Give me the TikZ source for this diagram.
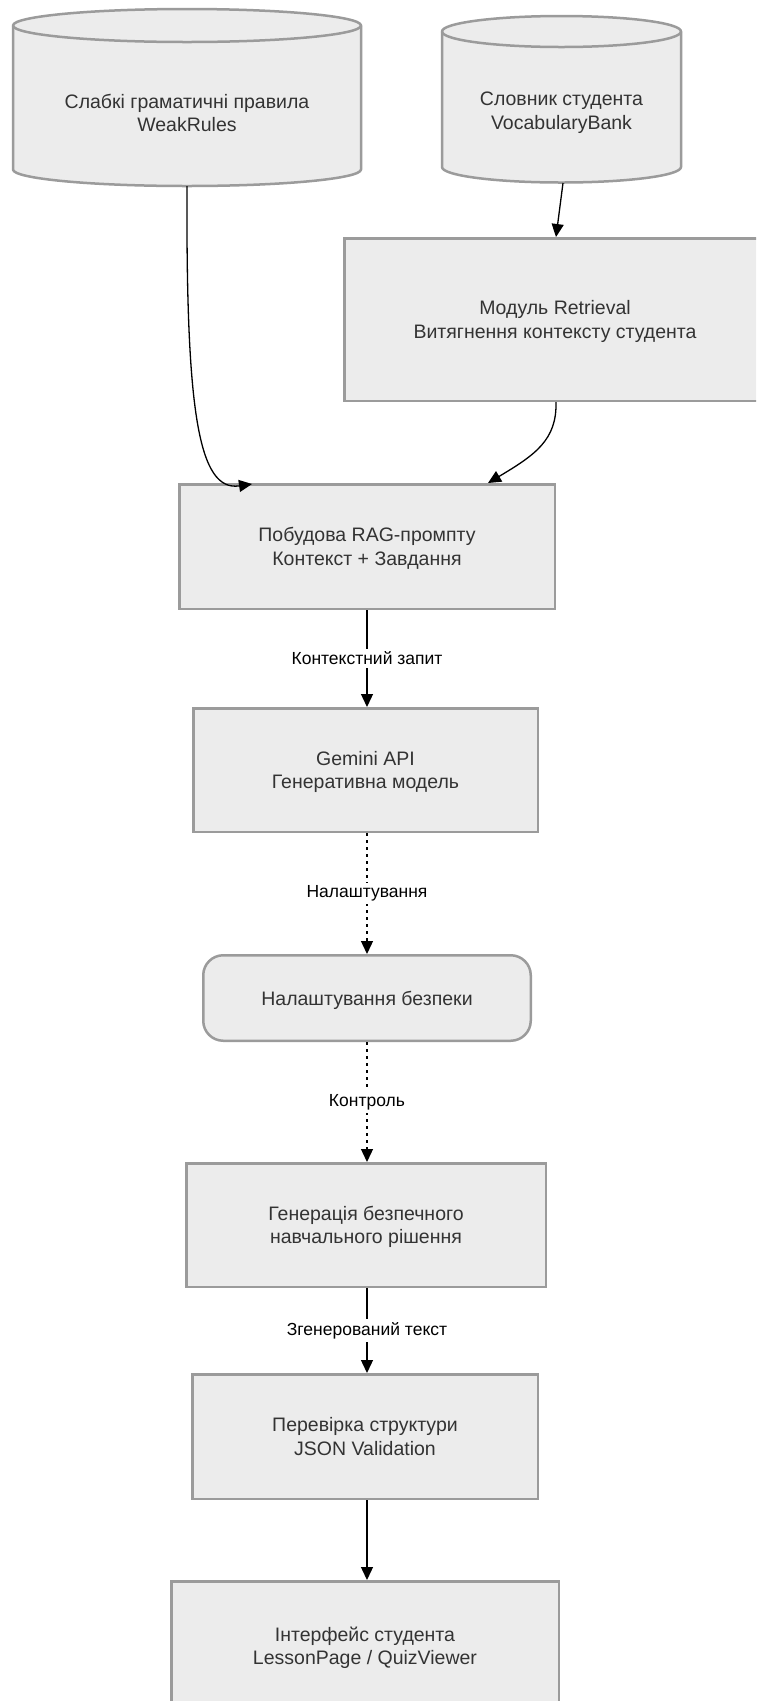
\documentclass[tikz,border=0pt]{standalone}
\usepackage{fontspec}
\setmainfont{Liberation Sans}
\usetikzlibrary{arrows.meta}
\definecolor{boxfill}{HTML}{ECECEC}
\definecolor{boxline}{HTML}{9B9B9B}
\definecolor{boxtext}{HTML}{333333}
\newcommand\drawcyl[5]{%
  \pgfmathsetmacro\cylrx{(#2-#1)/2}%
  \path[cyl] (#1,#3) -- (#1,#4) arc[start angle=180,end angle=360,x radius=\cylrx,y radius=#5]
    -- (#2,#3) arc[start angle=0,end angle=180,x radius=\cylrx,y radius=#5] -- cycle;
  \draw[cyl,fill=none] (#1,#3) arc[start angle=180,end angle=360,x radius=\cylrx,y radius=#5];
}
\tikzset{
  proc/.style={draw=boxline, fill=boxfill, line width=2.5pt, text=boxtext,
    font=\fontsize{19.5}{23.5}\selectfont, align=center, inner sep=0pt, text depth=0pt},
  cyltext/.style={text=boxtext, font=\fontsize{19.5}{23.5}\selectfont, align=center, inner sep=0pt},
  cyl/.style={draw=boxline, fill=boxfill, line width=2.5pt, line join=round},
  lbl/.style={fill=white, text=black, font=\fontsize{17.5}{20}\selectfont, inner sep=3pt},
  flow/.style={draw=black, line width=1.3pt, -{Triangle[length=13pt,width=12pt]}},
  dotflow/.style={flow, dash pattern=on 3pt off 4pt},
}
\begin{document}
\begin{tikzpicture}[x=1pt,y=1pt]
\useasboundingbox (0,0) rectangle (756,-1701);
\clip (0,0) rectangle (756,-1701);
\fill[white] (0,0) rectangle (756,-1701);

% cylinders
\drawcyl{13}{361}{-25.5}{-169.5}{16.5}
\node[cyltext] (weak) at (187,-113) {Слабкі граматичні правила\\WeakRules};
\coordinate (weakb) at (187,-186);

\drawcyl{442}{681}{-31.5}{-167}{15.5}
\node[cyltext] (voc) at (561.5,-112.5) {Словник студента\\VocabularyBank};
\coordinate (vocb) at (563,-183);

% boxes
\node[proc, minimum width=421.5pt, minimum height=162.5pt] (retr) at (555,-319.5)
  {Модуль Retrieval\\Витягнення контексту студента};
\node[proc, minimum width=375.5pt, minimum height=124.5pt] (rag) at (367,-546.5)
  {Побудова RAG-промпту\\Контекст + Завдання};
\node[proc, minimum width=344.5pt, minimum height=123.5pt] (gem) at (365.5,-770)
  {Gemini API\\Генеративна модель};
\node[proc, rounded corners=20pt, minimum width=327.5pt, minimum height=85.5pt] (safe) at (367,-998)
  {Налаштування безпеки};
\node[proc, minimum width=359.5pt, minimum height=123.5pt] (gen) at (366,-1225)
  {Генерація безпечного\\навчального рішення};
\node[proc, minimum width=345.5pt, minimum height=124.5pt] (json) at (365,-1436.5)
  {Перевірка структури\\JSON Validation};
\node[proc, minimum width=387.5pt, minimum height=128.5pt] (ui) at (365,-1645.5)
  {Інтерфейс студента\\LessonPage / QuizViewer};

% connectors
\coordinate (ragin1) at (252,-484);
\coordinate (ragin2) at (488,-483);
\coordinate (retrout) at (556,-402);
\draw[flow] (vocb) -- (556,-237);
\draw[flow] (weakb) .. controls (186,-410) and (198,-492) .. (ragin1);
\draw[flow] (retrout) .. controls (557,-440) and (535,-455) .. (ragin2);

\draw[flow] (367,-610) -- node[lbl]{Контекстний запит} (367,-707);
\draw[dotflow] (367,-833) -- node[lbl]{Налаштування} (367,-954);
\draw[dotflow] (367,-1042) -- node[lbl]{Контроль} (367,-1162);
\draw[flow] (367,-1288) -- node[lbl]{Згенерований текст} (367,-1373);
\draw[flow] (367,-1500) -- (367,-1580);
\end{tikzpicture}
\end{document}
